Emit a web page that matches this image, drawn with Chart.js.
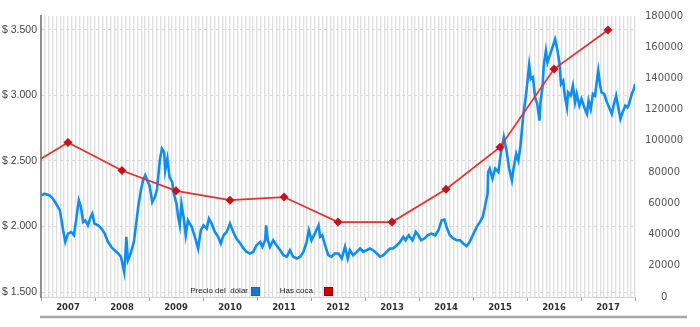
<!DOCTYPE html>
<html>
<head>
<meta charset="utf-8">
<script src="https://cdn.jsdelivr.net/npm/chart.js@4.4.1/dist/chart.umd.min.js"></script>
<style>
  html, body { margin: 0; padding: 0; background: #fff; }
  #wrap { position: relative; width: 700px; height: 327px; }
</style>
</head>
<body>
<div id="wrap"><canvas id="grafico"></canvas></div>
<script>
// years shown on the bottom axis (label centred in each year)
const yearLabels = ['2007','2008','2009','2010','2011','2012','2013','2014','2015','2016','2017'];
const leftTicks = [1500, 2000, 2500, 3000, 3500];

// hectares of coca, one value per year (drawn at mid-year)
const cocaYears = [2006, 2007, 2008, 2009, 2010, 2011, 2012, 2013, 2014, 2015, 2016, 2017];
const cocaHa = [78000, 99000, 81000, 68000, 62000, 64000, 48000, 48000, 69000, 96000, 146000, 171000];

// dollar price (COP), x in decimal years
const dolarX = [
  2007.01,2007.07,2007.16,2007.22,2007.28,2007.35,2007.41,2007.45,2007.50,2007.56,2007.61,2007.65,2007.70,2007.74,2007.78,2007.82,2007.87,2007.92,2007.95,2007.99,
  2008.06,2008.12,2008.18,2008.24,2008.30,2008.36,2008.43,2008.48,2008.52,2008.54,2008.56,2008.58,2008.61,2008.66,2008.72,2008.77,2008.80,2008.85,2008.89,2008.93,2008.98,
  2009.01,2009.06,2009.11,2009.15,2009.20,2009.24,2009.28,2009.30,2009.34,2009.38,2009.43,2009.46,2009.51,2009.54,2009.57,2009.60,2009.64,2009.68,2009.72,2009.79,2009.85,2009.91,2009.96,
  2010.01,2010.07,2010.11,2010.16,2010.22,2010.28,2010.33,2010.38,2010.44,2010.50,2010.56,2010.62,2010.69,2010.75,2010.81,2010.87,2010.93,2010.99,
  2011.06,2011.10,2011.15,2011.17,2011.20,2011.24,2011.30,2011.36,2011.43,2011.49,2011.55,2011.61,2011.67,2011.74,2011.80,2011.86,2011.92,2011.96,
  2012.01,2012.07,2012.14,2012.17,2012.21,2012.26,2012.32,2012.38,2012.44,2012.51,2012.57,2012.63,2012.68,2012.72,2012.78,2012.85,2012.91,2012.97,
  2013.03,2013.09,2013.15,2013.22,2013.28,2013.34,2013.40,2013.46,2013.52,2013.59,2013.65,2013.71,2013.75,2013.81,2013.88,2013.94,2013.99,
  2014.04,2014.10,2014.16,2014.23,2014.30,2014.36,2014.42,2014.47,2014.51,2014.57,2014.64,2014.70,2014.76,2014.82,2014.88,2014.94,
  2015.01,2015.07,2015.13,2015.18,2015.22,2015.27,2015.28,2015.31,2015.36,2015.41,2015.47,2015.51,2015.57,2015.62,2015.67,2015.72,2015.75,2015.80,2015.84,2015.88,2015.93,2015.98,
  2016.02,2016.04,2016.07,2016.11,2016.15,2016.19,2016.23,2016.25,2016.29,2016.31,2016.35,2016.38,2016.43,2016.48,2016.52,2016.56,2016.60,2016.63,2016.67,2016.70,2016.74,2016.76,2016.81,2016.85,2016.89,2016.92,2016.97,
  2017.01,2017.06,2017.11,2017.14,2017.18,2017.22,2017.26,2017.29,2017.32,2017.35,2017.38,2017.43,2017.48,2017.52,2017.57,2017.61,2017.65,2017.69,2017.73,2017.77,2017.82,2017.86,2017.89,2017.94,2017.98,2018.00
];
const dolarValor = [
  2237,2250,2237,2212,2174,2123,1971,1883,1946,1958,1933,2047,2200,2149,2035,2047,2009,2073,2098,2022,
  2009,1984,1946,1883,1845,1819,1794,1769,1693,1654,1769,1921,1743,1794,1883,2047,2149,2276,2352,2390,2339,
  2314,2187,2225,2288,2504,2593,2567,2428,2517,2377,2339,2250,2174,2073,2009,2174,2073,1933,2047,1997,1921,1832,1971,
  2009,1984,2060,2022,1959,1921,1870,1933,1959,2022,1959,1908,1870,1832,1806,1794,1806,1857,
  1883,1845,1895,2009,1895,1845,1895,1857,1819,1781,1769,1819,1769,1756,1769,1806,1883,1971,
  1895,1946,2009,1921,1933,1857,1781,1769,1794,1794,1756,1845,1756,1819,1781,1806,1832,1806,
  1819,1832,1819,1794,1769,1781,1806,1832,1832,1857,1883,1921,1895,1933,1895,1959,1933,
  1895,1908,1933,1946,1933,1971,2047,2052,1997,1933,1908,1895,1895,1870,1850,1883,
  1946,1997,2035,2073,2149,2250,2415,2441,2365,2441,2415,2542,2681,2580,2441,2352,2441,2555,2504,2618,2846,2998,
  3150,3231,3125,3138,2985,2935,2808,2947,3074,3226,3340,3251,3315,3378,3429,3353,3251,3087,3112,2998,2909,3023,2998,3074,2947,3011,2922,
  2973,2909,2859,2960,2896,3011,2998,3099,3188,3087,3023,3011,2947,2909,2859,2935,2998,2909,2821,2871,2922,2909,2935,3011,3049,3087
];

const firstYear = 2007;
const lastYear = 2018;
const gridPerYear = 14;

const narrow = "'Liberation Sans Narrow', 'Liberation Sans', Arial, sans-serif";

// legend drawn inside the plot, text before the coloured square
const leyenda = {
  id: 'leyenda',
  afterDraw(chart) {
    const { ctx, chartArea } = chart;
    const ds = chart.data.datasets;
    const items = [
      { label: ds[1].label, fill: '#1478d2', stroke: '#2f5f96', textRight: 207, box: 210 },
      { label: ds[0].label, fill: '#d40000', stroke: '#8a0000', textRight: 272, box: 283 }
    ];
    const y = chartArea.bottom - 10;
    ctx.save();
    ctx.font = '8px ' + narrow;
    ctx.textAlign = 'right';
    ctx.textBaseline = 'middle';
    items.forEach(it => {
      ctx.fillStyle = '#222';
      ctx.fillText(it.label, chartArea.left + it.textRight, y + 4);
      ctx.fillStyle = it.fill;
      ctx.fillRect(chartArea.left + it.box, y, 9, 9);
      ctx.strokeStyle = it.stroke;
      ctx.lineWidth = 0.8;
      ctx.strokeRect(chartArea.left + it.box + 0.5, y + 0.5, 8, 8);
    });
    // gray rule under the year labels
    ctx.strokeStyle = '#a8a8a8';
    ctx.lineWidth = 2.5;
    ctx.beginPath();
    ctx.moveTo(chartArea.left - 1, chartArea.bottom + 20);
    ctx.lineTo(chart.width - 13, chartArea.bottom + 20);
    ctx.stroke();
    ctx.restore();
  }
};

new Chart(document.getElementById('grafico'), {
  type: 'line',
  data: {
    datasets: [
      {
        label: 'Has coca',
        data: cocaYears.map((y, i) => ({ x: y + 0.5, y: cocaHa[i] })),
        yAxisID: 'y1',
        borderColor: '#e3312b',
        borderWidth: 1.7,
        pointStyle: 'rectRot',
        pointRadius: 3.3,
        pointBackgroundColor: '#c8121c',
        pointBorderColor: '#c8121c',
        tension: 0
      },
      {
        label: 'Precio del  dólar',
        data: dolarX.map((x, i) => ({ x: x, y: dolarValor[i] })),
        yAxisID: 'y',
        borderColor: '#0d8ef0',
        borderWidth: 2.6,
        pointRadius: 0,
        tension: 0
      }
    ]
  },
  options: {
    responsive: true,
    maintainAspectRatio: false,
    animation: false,
    layout: { padding: { top: 15, left: 0, right: 0, bottom: 0 } },
    plugins: {
      legend: { display: false },
      tooltip: { enabled: false }
    },
    scales: {
      x: {
        type: 'linear',
        position: 'bottom',
        min: firstYear,
        max: lastYear,
        afterBuildTicks: axis => {
          const t = [];
          for (let i = 0; i <= (lastYear - firstYear) * gridPerYear; i++) t.push({ value: firstYear + i / gridPerYear });
          axis.ticks = t;
        },
        afterFit: axis => { axis.height = 0; },
        ticks: { display: false },
        grid: { color: '#e0e0e0', lineWidth: 1.4, drawTicks: false },
        border: { display: false }
      },
      x2: {
        type: 'linear',
        position: 'bottom',
        min: firstYear,
        max: lastYear,
        afterBuildTicks: axis => {
          const t = [];
          for (let y = firstYear; y <= lastYear; y++) t.push({ value: y });
          axis.ticks = t;
        },
        afterFit: axis => { axis.height = 30; },
        ticks: {
          autoSkip: false,
          maxRotation: 0,
          labelOffset: 27,
          padding: 2,
          color: '#333',
          font: { family: "'DejaVu Sans', Verdana, sans-serif", size: 8.5, weight: 'bold' },
          callback: (v, i) => yearLabels[i] || ''
        },
        grid: { drawOnChartArea: false, drawTicks: true, tickLength: 4, color: '#a0a0a0' },
        border: { display: true, color: '#d0d0d0', width: 1 }
      },
      y: {
        position: 'left',
        min: 1462,
        max: 3606,
        afterBuildTicks: axis => { axis.ticks = leftTicks.map(v => ({ value: v })); },
        afterFit: axis => { axis.width = 41; },
        ticks: {
          padding: 4,
          color: '#444',
          font: { family: narrow, size: 10.5 },
          callback: v => '$ ' + (v / 1000).toFixed(3)
        },
        grid: { color: '#d8d8d8', lineWidth: 1, drawTicks: false },
        border: { display: true, color: '#8e8e8e', width: 2, dash: [3, 3] }
      },
      y1: {
        position: 'right',
        min: 0,
        max: 180000,
        afterFit: axis => { axis.width = 65; },
        ticks: {
          stepSize: 20000,
          padding: 10,
          crossAlign: 'center',
          color: '#555',
          font: { family: "'DejaVu Sans', Verdana, sans-serif", size: 10 },
          callback: v => String(v)
        },
        grid: { drawOnChartArea: false, drawTicks: false },
        border: { display: false }
      }
    }
  },
  plugins: [leyenda]
});
</script>
</body>
</html>
